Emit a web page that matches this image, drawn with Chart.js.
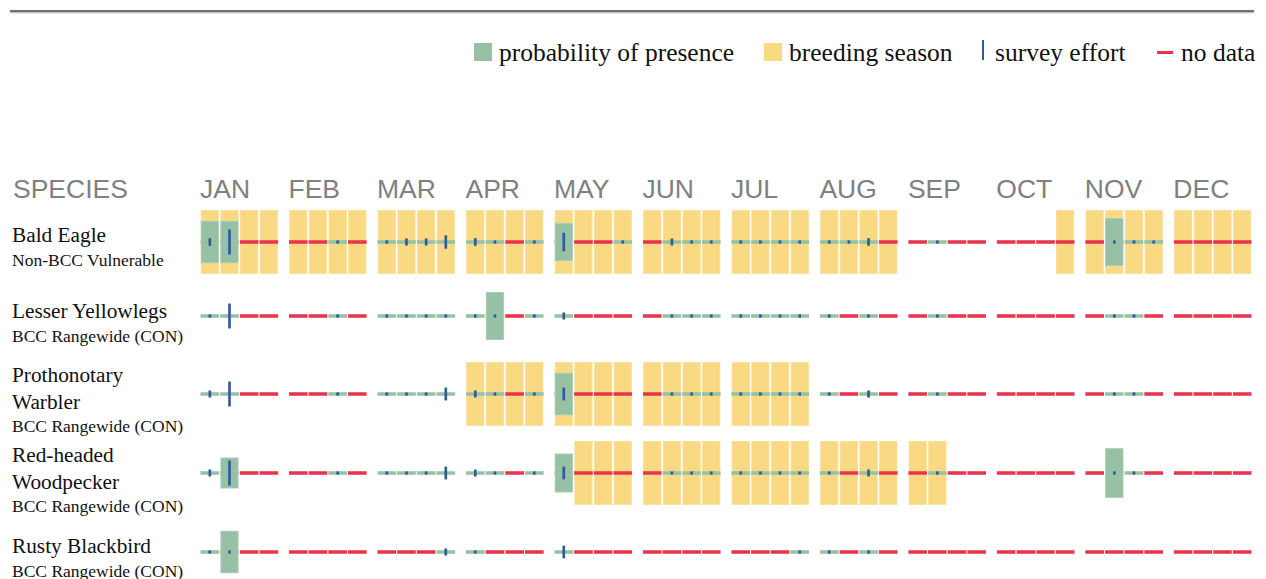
<!DOCTYPE html>
<html>
<head>
<meta charset="utf-8">
<title>Probability of presence</title>
<script src="https://cdn.jsdelivr.net/npm/chart.js@4.4.1/dist/chart.umd.min.js"></script>
<style>
	body { margin: 0; background: #fff; width: 1266px; height: 579px; position: relative; overflow: hidden; }
	.rule { position: absolute; left: 10px; top: 10px; width: 1244px; height: 2px; background: #6e6e6e; box-shadow: 0 1px 2px rgba(0,0,0,.35); }
	.leg { position: absolute; top: 38px; font-family: "Liberation Serif", serif; font-size: 25.5px; line-height: 30px; color: #111; white-space: nowrap; }
	.sw { position: absolute; }
	.head { position: absolute; top: 174px; font-family: "Liberation Sans", sans-serif; font-size: 26.5px; line-height: 30px; color: #808080; white-space: nowrap; }
	.name { position: absolute; left: 12px; width: 175px; font-family: "Liberation Serif", serif; color: #111; }
	.name .n { font-size: 21.3px; line-height: 26.5px; }
	.name .s { font-size: 17.5px; line-height: 22px; white-space: nowrap; }
	canvas { position: absolute; left: 200px; }
</style>
</head>
<body>
<div class="rule"></div>

<div class="sw" style="left:474px;top:43px;width:18px;height:18px;background:#97c1a4"></div>
<div class="leg" style="left:499px">probability of presence</div>
<div class="sw" style="left:764px;top:43px;width:18px;height:18px;background:#fad983"></div>
<div class="leg" style="left:789px">breeding season</div>
<div class="sw" style="left:982px;top:40px;width:2px;height:20px;background:#2c5d98"></div>
<div class="leg" style="left:995px">survey effort</div>
<div class="sw" style="left:1157px;top:51px;width:16px;height:3px;background:#e8354d"></div>
<div class="leg" style="left:1181px">no data</div>

<div class="head" style="left:13px">SPECIES</div>
<div id="months"></div>
<div id="rows"></div>

<script>
var months = ['JAN', 'FEB', 'MAR', 'APR', 'MAY', 'JUN', 'JUL', 'AUG', 'SEP', 'OCT', 'NOV', 'DEC'];
var speciesNames = ['Bald Eagle', 'Lesser Yellowlegs', 'Prothonotary Warbler', 'Red-headed Woodpecker', 'Rusty Blackbird'];
var speciesStatus = ['Non-BCC Vulnerable', 'BCC Rangewide (CON)', 'BCC Rangewide (CON)', 'BCC Rangewide (CON)', 'BCC Rangewide (CON)'];

// 4 weeks per month, JAN..DEC. breeding: 1 = in season
var baldEagleBreeding      = [1,1,1,1, 1,1,1,1, 1,1,1,1, 1,1,1,1, 1,1,1,1, 1,1,1,1, 1,1,1,1, 1,1,1,1, 0,0,0,0, 0,0,0,1, 1,1,1,1, 1,1,1,1];
var yellowlegsBreeding     = [0,0,0,0, 0,0,0,0, 0,0,0,0, 0,0,0,0, 0,0,0,0, 0,0,0,0, 0,0,0,0, 0,0,0,0, 0,0,0,0, 0,0,0,0, 0,0,0,0, 0,0,0,0];
var prothonotaryBreeding   = [0,0,0,0, 0,0,0,0, 0,0,0,0, 1,1,1,1, 1,1,1,1, 1,1,1,1, 1,1,1,1, 0,0,0,0, 0,0,0,0, 0,0,0,0, 0,0,0,0, 0,0,0,0];
var woodpeckerBreeding     = [0,0,0,0, 0,0,0,0, 0,0,0,0, 0,0,0,0, 0,1,1,1, 1,1,1,1, 1,1,1,1, 1,1,1,1, 1,1,0,0, 0,0,0,0, 0,0,0,0, 0,0,0,0];
var blackbirdBreeding      = [0,0,0,0, 0,0,0,0, 0,0,0,0, 0,0,0,0, 0,0,0,0, 0,0,0,0, 0,0,0,0, 0,0,0,0, 0,0,0,0, 0,0,0,0, 0,0,0,0, 0,0,0,0];

// probability of presence (share of the row height)
var baldEaglePresence      = [.66,.66,0,0, 0,0,0,0, 0,0,0,0, 0,0,0,0, .59,0,0,0, 0,0,0,0, 0,0,0,0, 0,0,0,0, 0,0,0,0, 0,0,0,0, 0,.75,0,0, 0,0,0,0];
var yellowlegsPresence     = [0,0,0,0, 0,0,0,0, 0,0,0,0, 0,.75,0,0, 0,0,0,0, 0,0,0,0, 0,0,0,0, 0,0,0,0, 0,0,0,0, 0,0,0,0, 0,0,0,0, 0,0,0,0];
var prothonotaryPresence   = [0,0,0,0, 0,0,0,0, 0,0,0,0, 0,0,0,0, .66,0,0,0, 0,0,0,0, 0,0,0,0, 0,0,0,0, 0,0,0,0, 0,0,0,0, 0,0,0,0, 0,0,0,0];
var woodpeckerPresence     = [0,.48,0,0, 0,0,0,0, 0,0,0,0, 0,0,0,0, .61,0,0,0, 0,0,0,0, 0,0,0,0, 0,0,0,0, 0,0,0,0, 0,0,0,0, 0,.77,0,0, 0,0,0,0];
var blackbirdPresence      = [0,.66,0,0, 0,0,0,0, 0,0,0,0, 0,0,0,0, 0,0,0,0, 0,0,0,0, 0,0,0,0, 0,0,0,0, 0,0,0,0, 0,0,0,0, 0,0,0,0, 0,0,0,0];

// survey effort, null = no data for that week
var baldEagleEffort = [.11,.38,null,null, null,null,.04,null, .04,.1,.1,.2, .11,.04,null,.04, .28,null,null,.04, null,.1,.04,.04,
	.04,.04,.04,.04, .04,.04,.11,null, null,.04,null,null, null,null,null,null, null,.04,.04,.04, null,null,null,null];
var yellowlegsEffort = [.04,.38,null,null, null,null,.04,null, .04,.04,.04,.04, .04,.04,null,.04, .1,null,null,null, null,.04,.04,.04,
	.04,.04,.04,.04, .04,null,.04,null, null,.04,null,null, null,null,null,null, null,.04,.04,null, null,null,null,null];
var prothonotaryEffort = [.1,.38,null,null, null,null,.04,null, .04,.04,.04,.19, .1,.04,null,.04, .19,null,null,null, null,.04,.04,.04,
	.04,.04,.04,.04, .04,null,.1,null, null,.04,null,null, null,null,null,null, null,.04,.04,null, null,null,null,null];
var woodpeckerEffort = [.1,.38,null,null, null,null,.04,null, .04,.04,.04,.19, .1,.04,null,.04, .19,null,null,null, null,.04,.04,.04,
	.04,.04,.04,.04, .04,null,.1,null, null,.04,null,null, null,null,null,null, null,.04,.04,null, null,null,null,null];
var blackbirdEffort = [.04,.04,null,null, null,null,null,null, null,null,null,.1, .04,null,null,null, .19,null,null,null, null,null,null,null,
	null,null,null,.04, .04,null,.04,null, null,null,null,null, null,null,null,null, null,null,null,null, null,null,null,null];

var breedingRows = [baldEagleBreeding, yellowlegsBreeding, prothonotaryBreeding, woodpeckerBreeding, blackbirdBreeding];
var presenceRows = [baldEaglePresence, yellowlegsPresence, prothonotaryPresence, woodpeckerPresence, blackbirdPresence];
var effortRows = [baldEagleEffort, yellowlegsEffort, prothonotaryEffort, woodpeckerEffort, blackbirdEffort];

var GREEN = '#97c1a4', YELLOW = '#fad983', BLUE = '#2c5d98', RED = '#e8354d';

// layout of the rows on the page
var rowCenter = [242, 316, 393.5, 473, 552];
var labelTop = [222, 298, 362, 442, 533];
var ROW_H = 64, ROW_W = 1052;

// week k -> x value, months are separated by half a cell
function weekX(k) {
	return Math.floor(k / 4) * 4.5 + (k % 4) + 0.5;
}

function drawRow(canvas, breeding, presence, effort) {
	var season = [], prob = [], base = [], baseColors = [], survey = [];
	for (var k = 0; k < 48; k++) {
		var x = weekX(k);
		if (breeding[k]) season.push({x: x, y: [-1, 1]});
		if (presence[k] > 0) prob.push({x: x, y: [-presence[k], presence[k]]});
		base.push({x: x, y: [-0.045, 0.045]});
		baseColors.push(effort[k] === null ? RED : GREEN);
		if (effort[k] !== null) survey.push({x: x, y: [-effort[k], effort[k]]});
	}
	return new Chart(canvas, {
		type: 'bar',
		data: {
			datasets: [
				{label: 'survey effort', data: survey, backgroundColor: BLUE, barThickness: 2, grouped: false, order: 0},
				{label: 'probability of presence', data: prob, backgroundColor: GREEN, borderColor: '#b3d3bc', borderWidth: 1, borderSkipped: false, barThickness: 18, grouped: false, order: 1},
				{label: 'data', data: base, backgroundColor: baseColors, barThickness: 18, grouped: false, order: 2},
				{label: 'breeding season', data: season, backgroundColor: YELLOW, borderColor: '#fbe3a6', borderWidth: 1, borderSkipped: false, barThickness: 18, grouped: false, order: 3}
			]
		},
		options: {
			responsive: false,
			animation: false,
			events: [],
			layout: {padding: 0},
			plugins: {legend: {display: false}, tooltip: {enabled: false}},
			scales: {
				x: {type: 'linear', min: 0, max: 53.5, offset: false, display: false},
				y: {min: -1, max: 1, display: false}
			}
		}
	});
}

var rowsDiv = document.getElementById('rows');
var charts = [];
for (var i = 0; i < speciesNames.length; i++) {
	var lab = document.createElement('div');
	lab.className = 'name';
	lab.style.top = labelTop[i] + 'px';
	lab.innerHTML = '<div class="n">' + speciesNames[i] + '</div><div class="s">' + speciesStatus[i] + '</div>';
	rowsDiv.appendChild(lab);

	var cv = document.createElement('canvas');
	cv.width = ROW_W;
	cv.height = ROW_H;
	cv.style.top = (rowCenter[i] - ROW_H / 2) + 'px';
	rowsDiv.appendChild(cv);
	charts.push(drawRow(cv, breedingRows[i], presenceRows[i], effortRows[i]));
}

// month headings sit at the first week of each month
var xs = charts[0].scales.x;
var monthsDiv = document.getElementById('months');
for (var m = 0; m < months.length; m++) {
	var h = document.createElement('div');
	h.className = 'head';
	h.style.left = (200 + xs.getPixelForValue(m * 4.5)) + 'px';
	h.textContent = months[m];
	monthsDiv.appendChild(h);
}
</script>
</body>
</html>
